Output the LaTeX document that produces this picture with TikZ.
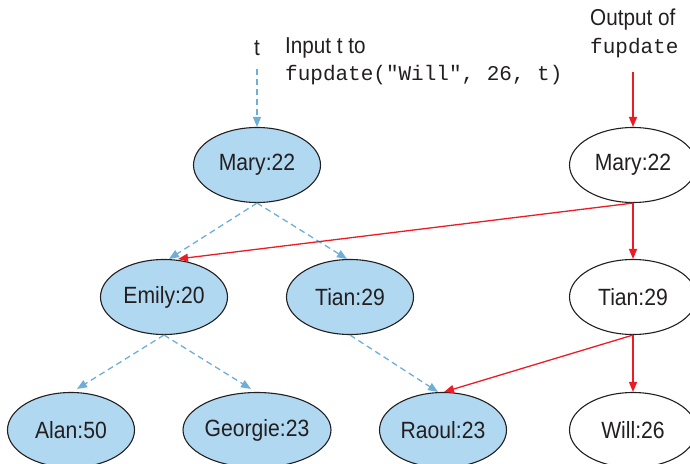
\documentclass[tikz,border=0pt]{standalone}
\usepackage{fontspec}
\setmainfont{Liberation Sans}[FakeStretch=0.9]
\setmonofont{Liberation Mono}
\usetikzlibrary{arrows.meta,shapes.geometric}
\definecolor{nodeblue}{RGB}{176,216,241}
\definecolor{edgeblue}{RGB}{110,175,215}
\definecolor{edgered}{RGB}{237,28,36}
\definecolor{ink}{RGB}{35,31,32}
\begin{document}
\begin{tikzpicture}[x=1pt,y=-1pt,
 tnode/.style={ellipse,draw=ink,line width=1.1pt,minimum width=127pt,minimum height=75pt,inner sep=0pt,font=\fontsize{23.5}{27}\selectfont,text=ink},
 oldnode/.style={tnode,fill=nodeblue},
 newnode/.style={tnode,fill=white},
 oldedge/.style={draw=edgeblue,line width=1.3pt,dash pattern=on 6pt off 4pt,-{Triangle[length=10pt,width=8pt]}},
 newedge/.style={draw=edgered,line width=1.3pt,-{Triangle[length=10pt,width=8pt]}},
 lbl/.style={font=\fontsize{23}{26}\selectfont,text=ink,inner sep=0pt}]
\useasboundingbox (0,0) rectangle (690,463);
% old tree
\node[oldnode] (maryL) at (257,165) {Mary:22};
\node[oldnode] (emily) at (164,297) {Emily:20};
\node[oldnode] (tianL) at (350,297) {Tian:29};
\node[oldnode] (alan) at (71,430) {Alan:50};
\node[oldnode] (georgie) at (257,430) {Georgie:23};
\node[oldnode] (raoul) at (443,430) {Raoul:23};
% new tree
\node[newnode] (maryR) at (633,165) {Mary:22};
\node[newnode] (tianR) at (633,297) {Tian:29};
\node[newnode] (will) at (633,430) {Will:26};
% labels
\node[lbl] (t) at (257,48) {t};
\node[lbl,anchor=west] (input) at (285,48) {Input t to};
\node[lbl,anchor=west,font=\fontsize{21}{24}\ttfamily] (call) at (285,75) {fupdate("Will", 26, t)};
\node[lbl,anchor=west] (output) at (590,20) {Output of};
\node[lbl,anchor=west,font=\fontsize{21}{24}\ttfamily] (fup) at (590,48) {fupdate};
\coordinate (tstart) at (257,69);
\coordinate (ostart) at (633,72);
% old edges
\draw[oldedge] (tstart) -- (maryL.north);
\draw[oldedge] (maryL.south) -- ([xshift=5pt]emily.north);
\draw[oldedge] (maryL.south) -- ([xshift=-3pt]tianL.north);
\draw[oldedge] (emily.south) -- ([xshift=6pt,yshift=3pt]alan.north);
\draw[oldedge] (emily.south) -- ([xshift=-6pt,yshift=3pt]georgie.north);
\draw[oldedge] (tianL.south) -- ([xshift=-5pt]raoul.north);
% new edges
\draw[newedge] (ostart) -- (maryR.north);
\draw[newedge] (maryR.south) -- ([xshift=14pt]emily.north);
\draw[newedge] (maryR.south) -- (tianR.north);
\draw[newedge] (tianR.south) -- ([xshift=1pt]raoul.north);
\draw[newedge] (tianR.south) -- (will.north);
\end{tikzpicture}
\end{document}
